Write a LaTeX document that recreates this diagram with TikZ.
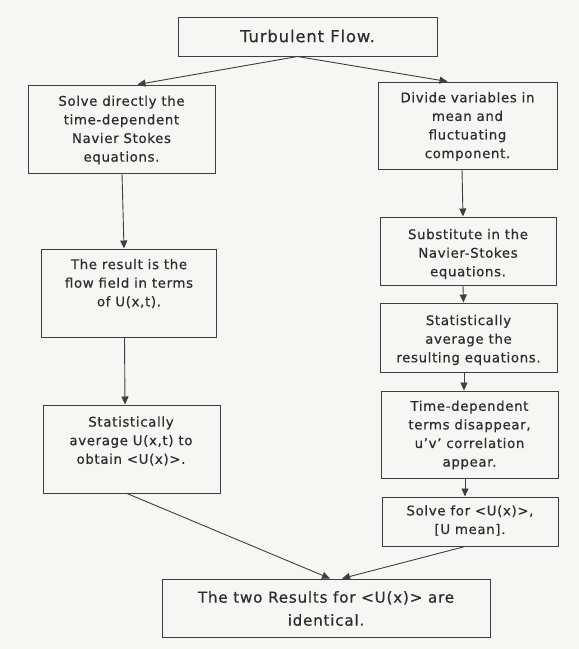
\documentclass[tikz,border=0pt]{standalone}
\usepackage{fontspec}
\setmainfont{DejaVu Sans}[LetterSpace=5, FakeBold=0.6]
\usetikzlibrary{arrows.meta}
\definecolor{paper}{RGB}{246,246,244}
\definecolor{ink}{RGB}{62,62,62}
\definecolor{txtc}{RGB}{45,45,45}
\begin{document}
\begin{tikzpicture}[x=1pt,y=-1pt,
  box/.style={draw=ink, line width=1pt, inner sep=0pt},
  txt/.style={text=txtc, align=center, inner sep=0pt,
    font=\fontsize{13.3}{18.6}\selectfont},
  bigtxt/.style={txt, font=\fontsize{15.2}{23}\selectfont},
  flow/.style={draw=ink, line width=0.9pt,
    -{Triangle[length=8pt,width=7pt]}}]

% page
\fill[paper] (0,0) rectangle (579,649);
\useasboundingbox (0,0) rectangle (579,649);

% frames
\node[box, minimum width=259pt, minimum height=39pt] (top) at (307.5,36.5) {};
\node[box, minimum width=187pt, minimum height=88pt] (L1) at (121.5,129) {};
\node[box, minimum width=175pt, minimum height=88pt] (L2) at (128.5,293) {};
\node[box, minimum width=177pt, minimum height=88pt] (L3) at (131.5,449) {};
\node[box, minimum width=179pt, minimum height=87pt] (R1) at (467.5,125.5) {};
\node[box, minimum width=176pt, minimum height=68pt] (R2) at (468,251) {};
\node[box, minimum width=177pt, minimum height=69pt] (R3) at (468.5,337.5) {};
\node[box, minimum width=177pt, minimum height=87pt] (R4) at (469.5,434.5) {};
\node[box, minimum width=176pt, minimum height=49pt] (R5) at (470,521.5) {};
\node[box, minimum width=328pt, minimum height=58pt] (B) at (326,608) {};

% texts
\node[txt, font=\fontsize{16.5}{23}\selectfont] (topt) at (307.5,36) {Turbulent Flow.};
\node[txt] (L1t) at (121.5,130) {Solve directly the\\time-dependent\\Navier Stokes\\equations.};
\node[txt] (L2t) at (129,283.5) {The result is the\\flow field in terms\\of U(x,t).};
\node[txt] (L3t) at (131,441) {Statistically\\average U(x,t) to\\obtain <U(x)>.};
\node[txt] (R1t) at (467.5,126.5) {Divide variables in\\mean and\\fluctuating\\component.};
\node[txt] (R2t) at (468,254) {Substitute in the\\Navier-Stokes\\equations.};
\node[txt] (R3t) at (468.5,340) {Statistically\\average the\\resulting equations.};
\node[txt] (R4t) at (469.5,435) {Time-dependent\\terms disappear,\\u'v' correlation\\appear.};
\node[txt] (R5t) at (470,520.5) {Solve for <U(x)>,\\{}[U mean].};
\node[bigtxt] (Bt) at (326,608.5) {The two Results for <U(x)> are\\identical.};

% connectors
\draw[flow] ([xshift=-10pt]top.south) -- ([xshift=16pt]L1.north);
\draw[flow] ([xshift=-10pt]top.south) -- ([xshift=-20pt]R1.north);
\draw[flow] ([xshift=0.5pt]L1.south) -- ([xshift=-4.5pt]L2.north);
\draw[flow] ([xshift=-4pt]L2.south) -- ([xshift=-6.5pt]L3.north);
\draw[flow] ([xshift=-4.5pt]L3.south) -- ([xshift=4pt]B.north);
\draw[flow] ([xshift=-5.5pt]R1.south) -- ([xshift=-5pt]R2.north);
\draw[flow] ([xshift=-5pt]R2.south) -- ([xshift=-5pt]R3.north);
\draw[flow] ([xshift=-4.5pt]R3.south) -- ([xshift=-5.5pt]R4.north);
\draw[flow] ([xshift=-4.5pt]R4.south) -- ([xshift=-5pt]R5.north);
\draw[flow] ([xshift=-5pt]R5.south) -- ([xshift=16pt]B.north);
\end{tikzpicture}
\end{document}
